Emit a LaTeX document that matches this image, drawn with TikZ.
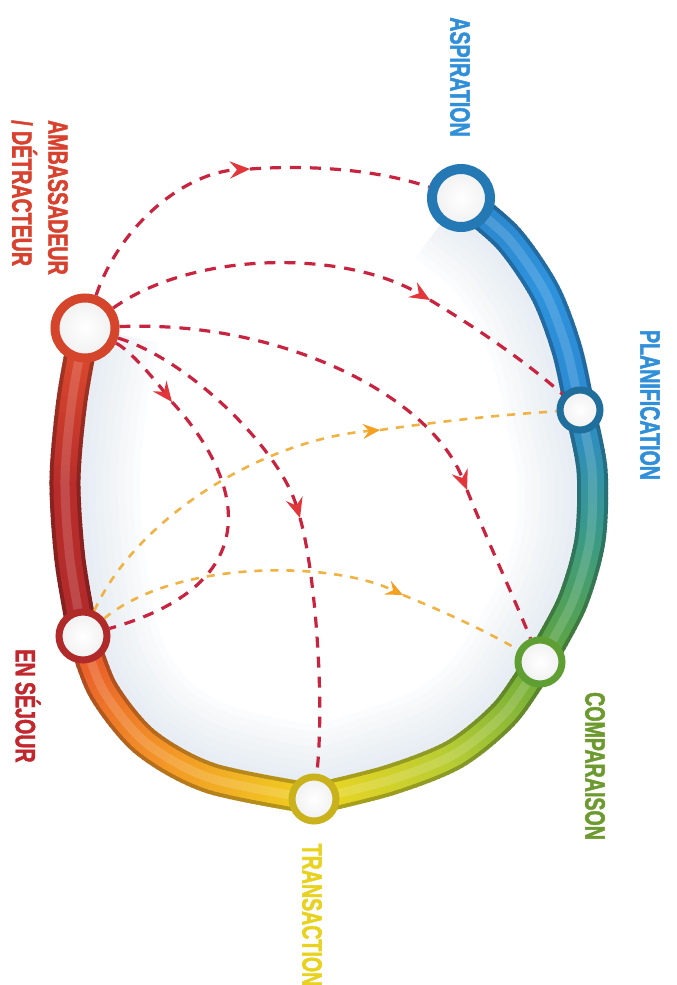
\documentclass[tikz,border=0pt]{standalone}
\usepackage{fontspec}
\newfontfamily\labfont[FakeStretch=0.7, BoldFeatures={FakeBold=1.6}]{Liberation Sans}
\usetikzlibrary{arrows.meta}
\definecolor{dashred}{HTML}{C8243F}
\definecolor{tipred}{HTML}{E2363A}
\definecolor{dashorg}{HTML}{F0B243}
\definecolor{tiporg}{HTML}{F5A020}
\definecolor{ambc}{HTML}{D5452B}
\definecolor{sejc}{HTML}{B02A2A}
\definecolor{aspc}{HTML}{2478B4}
\definecolor{plac}{HTML}{1F6E9C}
\definecolor{comc}{HTML}{5F9E32}
\definecolor{trac}{HTML}{C9B21C}
\definecolor{taspc}{HTML}{2F8FD9}
\definecolor{tambc}{HTML}{D9412F}
\definecolor{tsejc}{HTML}{C1272D}
\definecolor{tcomc}{HTML}{6D9A2F}
\definecolor{ttrac}{HTML}{E9D21E}
\definecolor{glowc}{HTML}{C9D8E6}
% band colours
\definecolor{bA1}{HTML}{E14D2E}\definecolor{bM1}{HTML}{B82D2B}\definecolor{bB1}{HTML}{B02A2A}
\definecolor{bA2}{HTML}{E8552B}\definecolor{bM2}{HTML}{F39A26}\definecolor{bB2}{HTML}{EFD520}
\definecolor{bA3}{HTML}{EED620}\definecolor{bM3}{HTML}{B7CC33}\definecolor{bB3}{HTML}{65A83A}
\definecolor{bA4}{HTML}{62A63A}\definecolor{bM4}{HTML}{3A9A86}\definecolor{bB4}{HTML}{2B8AD2}
\definecolor{bA5}{HTML}{2B8AD2}\definecolor{bM5}{HTML}{2E92DC}\definecolor{bB5}{HTML}{2A84C8}
\pgfdeclarelayer{bg}
\pgfsetlayers{bg,main}
\def\ringpath{plot[smooth] coordinates {(85,328) (72,400) (65,480) (70,560) (83,636) (103,690) (145,742) (210,778) (314,799) (390,780) (455,754) (505,713) (540,662) (572,603) (590,540) (592,470) (580,410) (567,350) (545,292) (508,238) (461,198)}}
% colour of piece k: #1 k, #2 start, #3 mid, #4 end
\newcommand\mysetbc[4]{%
  \ifnum#1<30
    \pgfmathtruncatemacro\mypc{100-200*#1/59}%
    \colorlet{bc}{#2!\mypc!#3}%
  \else
    \pgfmathtruncatemacro\mypc{200-200*#1/59}%
    \colorlet{bc}{#3!\mypc!#4}%
  \fi}
% gradient band segment: #1 start, #2 mid, #3 end colour, #4 length, #5 path
\newcommand\gradseg[5]{%
  \foreach \k in {0,...,59}{%
    \pgfmathsetmacro\myoff{\k*(#4/60)}\pgfmathsetmacro\myon{(#4/60)+1.2}%
    \mysetbc{\k}{#1}{#2}{#3}%
    \draw[line width=31pt, bc!75!black, dash pattern=on 0pt off \myoff pt on \myon pt off 3000pt] #5;}%
  \foreach \k in {0,...,59}{%
    \pgfmathsetmacro\myoff{\k*(#4/60)}\pgfmathsetmacro\myon{(#4/60)+1.2}%
    \mysetbc{\k}{#1}{#2}{#3}%
    \draw[line width=23pt, bc, dash pattern=on 0pt off \myoff pt on \myon pt off 3000pt] #5;}%
  \foreach \k in {0,...,59}{%
    \pgfmathsetmacro\myoff{\k*(#4/60)}\pgfmathsetmacro\myon{(#4/60)+1.2}%
    \mysetbc{\k}{#1}{#2}{#3}%
    \draw[line width=9pt, bc!85!white, dash pattern=on 0pt off \myoff pt on \myon pt off 3000pt] #5;}%
}
\tikzset{
  reddash/.style={draw=dashred, line width=3.2pt, dash pattern=on 11pt off 9pt},
  orgdash/.style={draw=dashorg, line width=2.6pt, dash pattern=on 8pt off 8pt},
  redtip/.style={-{Stealth[length=20pt,width=17pt,inset=7pt,color=tipred]}},
  orgtip/.style={-{Stealth[length=17pt,width=15pt,inset=6pt,color=tiporg]}},
  ring/.style={circle, inner sep=0pt, inner color=white, outer color=gray!12},
  lab/.style={rotate=-90, font=\labfont\bfseries\fontsize{28pt}{36pt}\selectfont, inner sep=0pt},
}
\begin{document}
\begin{tikzpicture}[x=1pt,y=-1pt]
\useasboundingbox (0,0) rectangle (677,985);

% ---- nodes (rings) ----
\node[ring, minimum size=60pt, line width=9pt, draw=ambc] (amb) at (85,328) {};
\node[ring, minimum size=48pt, line width=7pt, draw=sejc] (sej) at (83,636) {};
\node[ring, minimum size=44pt, line width=7pt, draw=trac] (tra) at (314,799) {};
\node[ring, minimum size=44pt, line width=7pt, draw=comc] (com) at (540,662) {};
\node[ring, minimum size=40pt, line width=7pt, draw=plac] (pla) at (580,410) {};
\node[ring, minimum size=58pt, line width=10pt, draw=aspc] (asp) at (461,198) {};

% ---- labels ----
\node[lab, text=taspc] (tasp) at (460,77) {ASPIRATION};
\node[lab, text=taspc] (tpla) at (650,405) {PLANIFICATION};
\node[lab, text=tcomc] (tcom) at (595,766) {COMPARAISON};
\node[lab, text=ttrac] (ttra) at (312,915) {TRANSACTION};
\node[lab, text=tsejc] (tsej) at (28,706) {EN SÉJOUR};
\node[lab, text=tambc, align=left, anchor=north west] (tamb) at (68,120) {AMBASSADEUR\\/ DÉTRACTEUR};

\begin{pgfonlayer}{bg}
\fill[white] (0,0) rectangle (677,985);
% interior glow
\begin{scope}
\clip \ringpath .. controls (330,120) and (130,200) .. cycle;
\foreach \w in {150,135,...,15}{
  \draw[glowc, line width=\w pt, opacity=0.06, line join=round] \ringpath;
}
\end{scope}
% band
\gradseg{bA1}{bM1}{bB1}{322}{plot[smooth] coordinates {(85,328) (72,400) (65,480) (70,560) (83,636)}}
\gradseg{bA2}{bM2}{bB2}{318}{plot[smooth] coordinates {(83,636) (103,690) (145,742) (210,778) (314,799)}}
\gradseg{bA3}{bM3}{bB3}{286}{plot[smooth] coordinates {(314,799) (390,780) (455,754) (505,713) (540,662)}}
\gradseg{bA4}{bM4}{bB4}{275}{plot[smooth] coordinates {(540,662) (572,603) (590,540) (592,470) (580,410)}}
\gradseg{bA5}{bM5}{bB5}{262}{plot[smooth] coordinates {(580,410) (567,350) (545,292) (508,238) (461,198)}}

% ---- connectors ----
\coordinate (m1) at (250,169);
\coordinate (m2) at (430,300);
\coordinate (m3) at (467,490);
\coordinate (m4) at (300,518);
\coordinate (m5) at (172,402);
\coordinate (m6) at (380,430);
\coordinate (m7) at (403,595);
% Ambassadeur -> Aspiration
\draw[reddash, redtip] (amb) .. controls (120,225) and (185,172) .. (m1);
\draw[reddash] (m1) .. controls (320,164) and (385,172) .. (asp);
% Ambassadeur -> Planification
\draw[reddash, redtip] (amb) .. controls (195,250) and (345,250) .. (m2);
\draw[reddash] (m2) .. controls (480,330) and (530,365) .. (pla);
% Ambassadeur -> Comparaison
\draw[reddash, redtip] (amb) .. controls (280,320) and (430,395) .. (m3);
\draw[reddash] (m3) .. controls (485,535) and (515,600) .. (com);
% Ambassadeur -> Transaction
\draw[reddash, redtip] (amb) .. controls (190,360) and (280,450) .. (m4);
\draw[reddash] (m4) .. controls (315,570) and (325,700) .. (tra);
% Ambassadeur -> En sejour
\draw[reddash, redtip] (amb) .. controls (130,350) and (155,380) .. (m5);
\draw[reddash] (m5) .. controls (235,470) and (280,580) .. (sej);
% En sejour -> Planification
\draw[orgdash, orgtip] (sej) .. controls (135,520) and (260,440) .. (m6);
\draw[orgdash] (m6) .. controls (450,420) and (510,414) .. (pla);
% En sejour -> Comparaison
\draw[orgdash, orgtip] (sej) .. controls (175,560) and (330,560) .. (m7);
\draw[orgdash] (m7) .. controls (440,610) and (480,628) .. (com);
\end{pgfonlayer}
\end{tikzpicture}
\end{document}
